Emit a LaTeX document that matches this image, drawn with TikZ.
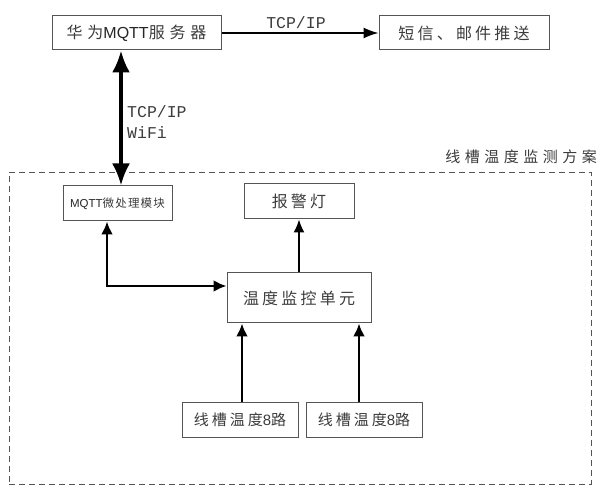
\documentclass[tikz,border=0pt]{standalone}
\usepackage{fontspec}
\setmainfont{Liberation Sans}
\newfontfamily\cjkW[LetterSpace=30]{Noto Sans CJK SC}
\newfontfamily\cjk[LetterSpace=20]{Noto Sans CJK SC}
\newfontfamily\cjkS[LetterSpace=10]{Noto Sans CJK SC}
\newfontfamily\monof{Liberation Mono}
\usetikzlibrary{arrows.meta}
\definecolor{txt}{HTML}{3C3C3C}
\definecolor{edge}{HTML}{555555}
\begin{document}
\begin{tikzpicture}[x=1pt,y=-1pt,
  box/.style={draw=edge, line width=1pt, inner sep=0pt, text=txt},
  lbl/.style={inner sep=0pt, text=txt},
  thin arrow/.style={line width=1.5pt, -{Latex[length=15pt,width=11pt]}},
  big arrow/.style={line width=3.5pt, {Latex[length=22pt,width=18pt]}-{Latex[length=22pt,width=18pt]}},
  mid arrow/.style={line width=2.5pt, -{Latex[length=13pt,width=12pt]}},
  grpbox/.style={draw=edge, line width=0.9pt, dash pattern=on 6pt off 4pt, inner sep=0pt}]
\useasboundingbox (0,0) rectangle (600,494);
\fill[white] (0,0) rectangle (600,494);

% group container
\node[grpbox, minimum width=582pt, minimum height=312pt] (grp) at (300,328) {};
\node[lbl, anchor=east, font={\fontsize{15}{15}\selectfont\cjkW}] (ttl) at (597,157) {线槽温度监测方案};

% top nodes
\node[box, minimum width=169pt, minimum height=34pt, font={\fontsize{16}{16}\selectfont\cjkW}] (srv) at (136.5,33)
  {华为{\normalfont\color{black!85}MQTT}服务器};
\node[box, minimum width=170pt, minimum height=34pt, font={\fontsize{16}{16}\selectfont\cjk}] (sms) at (464,33)
  {短信、邮件推送};

% inner nodes
\node[box, minimum width=109pt, minimum height=35pt, font={\fontsize{11.5}{12}\selectfont\cjkS}] (mq) at (117.5,203.5)
  {{\normalfont\color{black!85}MQTT}微处理模块};
\node[box, minimum width=110pt, minimum height=35pt, font={\fontsize{16}{16}\selectfont\cjk}] (al) at (299,201.5)
  {报警灯};
\node[box, minimum width=144pt, minimum height=50pt, font={\fontsize{16}{16}\selectfont\cjk}] (tu) at (299,298)
  {温度监控单元};
\node[box, minimum width=116pt, minimum height=35pt, font={\fontsize{15}{15}\selectfont\cjk}] (la) at (240,419.5)
  {线槽温度{\normalfont 8}路};
\node[box, minimum width=116pt, minimum height=35pt, font={\fontsize{15}{15}\selectfont\cjk}] (lb) at (364,419.5)
  {线槽温度{\normalfont 8}路};

% labels
\node[lbl, font={\fontsize{16.5}{16.5}\selectfont\monof}] (tcp) at (296,23) {TCP/IP};
\node[lbl, anchor=west, align=left, font={\fontsize{16.5}{21}\selectfont\monof}] (wifi) at (127,122)
  {TCP/IP\\WiFi};

% helper coordinates
\coordinate (c1) at (121,0);
\coordinate (c2) at (107,286);
\coordinate (c4) at (242,0);
\coordinate (c5) at (359,0);

% connectors
\draw[thin arrow] (srv.east) -- (sms.west);
\draw[big arrow] (srv.south -| c1) -- (mq.north -| c1);
\draw[line width=2.5pt, {Latex[length=13pt,width=12pt]}-{Latex[length=13pt,width=12pt]}]
  (mq.south -| c2) |- (tu.west |- c2);
\draw[thin arrow, -{Latex[length=13pt,width=11pt]}] (tu.north) -- (al.south);
\draw[mid arrow] (la.north -| c4) -- (tu.south -| c4);
\draw[mid arrow] (lb.north -| c5) -- (tu.south -| c5);
\end{tikzpicture}
\end{document}
